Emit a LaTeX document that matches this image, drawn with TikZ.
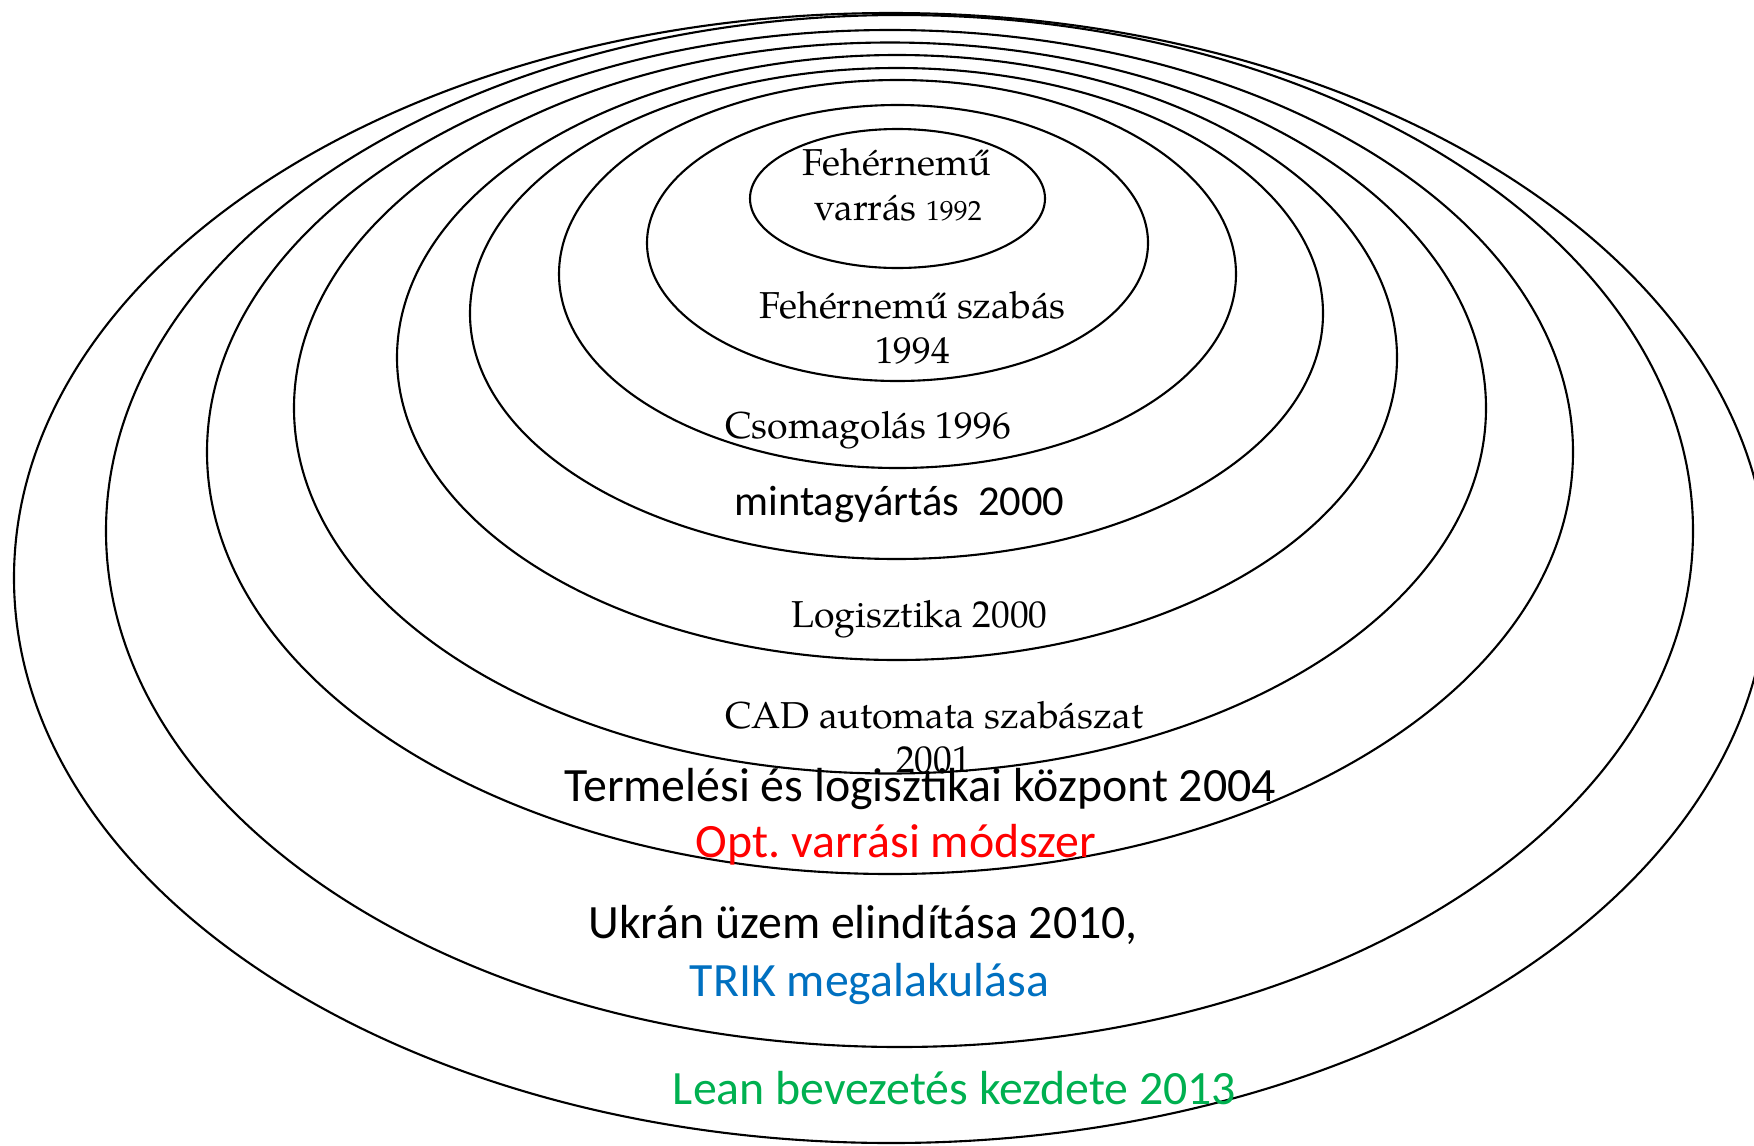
\documentclass[tikz,border=0pt]{standalone}
\usepackage{fontspec}
\setmainfont{TeX Gyre Pagella}
\newfontfamily\calibrifont{Carlito}
\frenchspacing

\definecolor{optred}{HTML}{FF0000}
\definecolor{trikblue}{HTML}{0070C0}
\definecolor{leangreen}{HTML}{00B050}

\begin{document}
\begin{tikzpicture}[
  x=0.01cm, y=-0.01cm,
  ring/.style={draw=black, line width=0.6pt},
  serif/.style={inner sep=0pt, anchor=base, font=\fontsize{10.65}{12}\selectfont},
  sans/.style={inner sep=0pt, anchor=base, font=\calibrifont\fontsize{13.6}{16}\selectfont},
]

\clip (0,0) rectangle (1754,1145);

%% ====================================================================
%%  RINGS (innermost first)
%% ====================================================================
\foreach \cx/\cy/\rx/\ry in {
    897.5/198.5/147.5/69.5,
    897.5/243/250.5/138,
    897.5/274/338.5/194,
    896.5/313.5/426.5/245.5,
    897/357.5/500/302.5,
    890/408/596/365.5,
    890/452/683/422,
    899.5/531/793.5/516,
    891/578/877/565}
  \draw[ring] (\cx,\cy) ellipse [x radius=\rx, y radius=\ry];

%% ====================================================================
%%  LABELS -- SERIF
%% ====================================================================
\node[serif] (varrasA) at (896.5,175) {Fehérnemű};
\node[serif] (varrasB) at (898,220) {varrás {\fontsize{7.9}{9}\selectfont 1992}};
\node[serif] (szabasA) at (912.5,318) {Fehérnemű szabás};
\node[serif] (szabasB) at (912.5,363) {1994};
\node[serif] (csomag) at (868,438) {Csomagolás 1996};
\node[serif] (logiszt) at (919.5,627) {Logisztika 2000};
\node[serif] (cadA) at (934.5,728) {CAD automata szabászat};
\node[serif] (cadB) at (933.5,772) {2001};

%% ====================================================================
%%  LABELS -- SANS
%% ====================================================================
\node[sans, font=\calibrifont\fontsize{12.1}{15}\selectfont] (minta) at (899.5,515) {mintagyártás\ \ 2000};
\node[sans] (termel) at (920,801) {Termelési és logisztikai központ 2004};
\node[sans, text=optred] (opt) at (896,857) {Opt. varrási módszer};
\node[sans] (ukran) at (863,938) {Ukrán üzem elindítása 2010,};
\node[sans, text=trikblue] (trik) at (869.5,996) {TRIK megalakulása};
\node[sans, text=leangreen] (lean) at (954.5,1104) {Lean bevezetés kezdete 2013};

\end{tikzpicture}
\end{document}
